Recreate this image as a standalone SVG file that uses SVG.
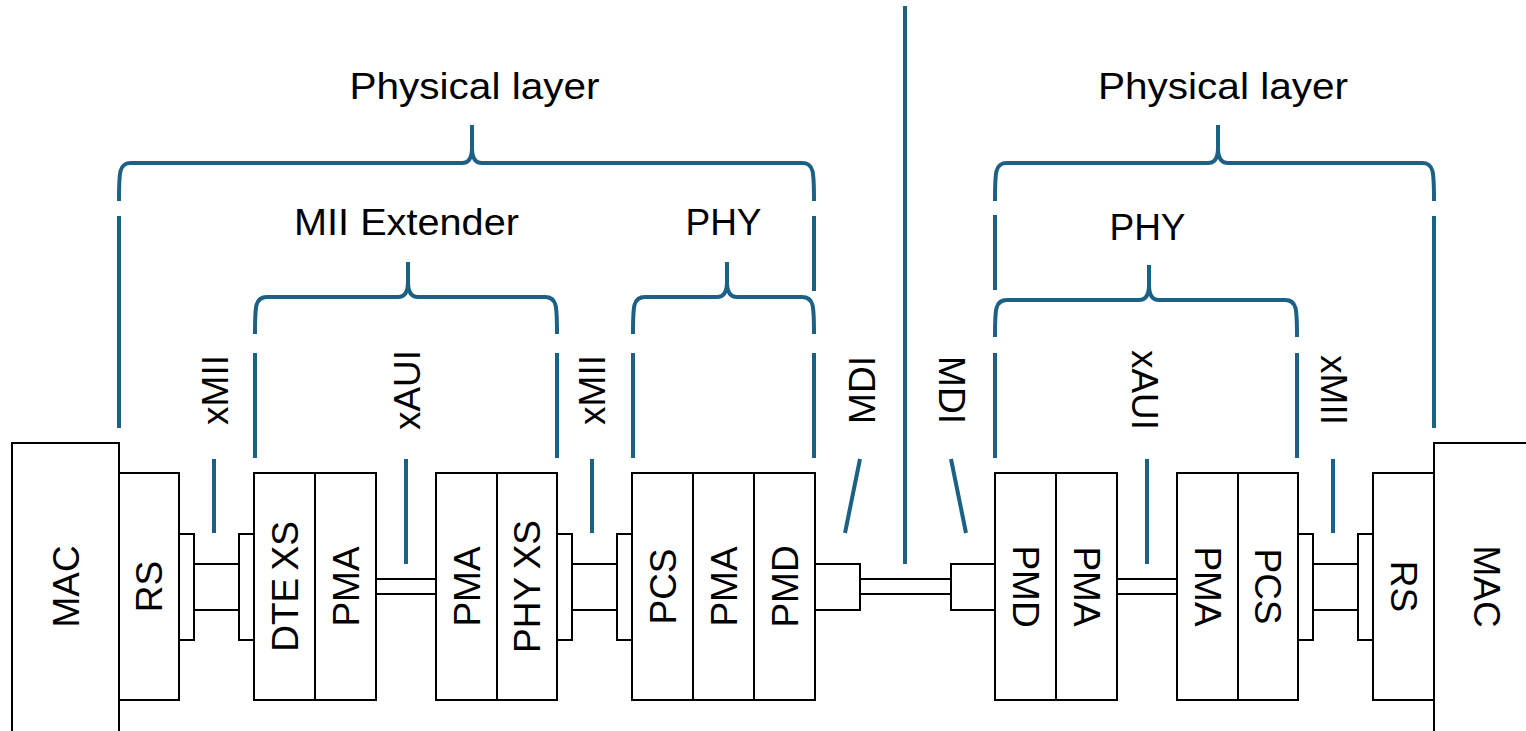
<svg xmlns="http://www.w3.org/2000/svg" width="1526" height="731" viewBox="0 0 1526 731">
<style>
.box{fill:#fff;stroke:#000;stroke-width:2}
.ln{fill:none;stroke:#000;stroke-width:2}
.br{fill:none;stroke:#1a6185;stroke-width:4;stroke-linecap:butt;stroke-linejoin:round}
.t{font-family:"Liberation Sans",Arial,sans-serif;font-size:37px;fill:#000;text-anchor:middle}
</style>
<rect width="1526" height="731" fill="#fff"/>

<g id="connectors">
  <rect class="box" x="179" y="534" width="15" height="106"/>
  <rect class="box" x="239" y="534" width="15" height="106"/>
  <line class="ln" x1="194" y1="564" x2="239" y2="564"/>
  <line class="ln" x1="194" y1="610" x2="239" y2="610"/>
  <line class="ln" x1="376" y1="579" x2="436" y2="579"/>
  <line class="ln" x1="376" y1="594" x2="436" y2="594"/>
  <rect class="box" x="557" y="534" width="15" height="106"/>
  <rect class="box" x="617" y="534" width="15" height="106"/>
  <line class="ln" x1="572" y1="564" x2="617" y2="564"/>
  <line class="ln" x1="572" y1="610" x2="617" y2="610"/>
  <rect class="box" x="815" y="564" width="45" height="46"/>
  <rect class="box" x="951" y="564" width="44" height="46"/>
  <line class="ln" x1="860" y1="579" x2="951" y2="579"/>
  <line class="ln" x1="860" y1="594" x2="951" y2="594"/>
  <line class="ln" x1="1117" y1="579" x2="1177" y2="579"/>
  <line class="ln" x1="1117" y1="594" x2="1177" y2="594"/>
  <rect class="box" x="1298" y="534" width="15" height="106"/>
  <rect class="box" x="1358" y="534" width="15" height="106"/>
  <line class="ln" x1="1313" y1="564" x2="1358" y2="564"/>
  <line class="ln" x1="1313" y1="610" x2="1358" y2="610"/>
</g>

<g id="left-mac">
  <rect class="box" x="12" y="443" width="107" height="300"/>
  <text class="t" transform="translate(65.5,586.5) rotate(-90)" y="13">MAC</text>
</g>
<g id="left-rs">
  <rect class="box" x="119" y="473" width="60" height="227"/>
  <text class="t" transform="translate(149,586.5) rotate(-90)" y="13">RS</text>
</g>
<g id="left-dtexs">
  <rect class="box" x="254" y="473" width="61" height="227"/>
  <text class="t" transform="translate(284.5,586.5) rotate(-90)" y="13" word-spacing="-3">DTE XS</text>
</g>
<g id="left-pma1">
  <rect class="box" x="315" y="473" width="61" height="227"/>
  <text class="t" transform="translate(345.5,586.5) rotate(-90)" y="13">PMA</text>
</g>
<g id="left-pma2">
  <rect class="box" x="436" y="473" width="61" height="227"/>
  <text class="t" transform="translate(466.5,586.5) rotate(-90)" y="13">PMA</text>
</g>
<g id="left-phyxs">
  <rect class="box" x="497" y="473" width="60" height="227"/>
  <text class="t" transform="translate(527,586.5) rotate(-90)" y="13" word-spacing="-2">PHY XS</text>
</g>
<g id="left-pcs">
  <rect class="box" x="632" y="473" width="61" height="227"/>
  <text class="t" transform="translate(662.5,586.5) rotate(-90)" y="13">PCS</text>
</g>
<g id="left-pma3">
  <rect class="box" x="693" y="473" width="61" height="227"/>
  <text class="t" transform="translate(723.5,586.5) rotate(-90)" y="13">PMA</text>
</g>
<g id="left-pmd">
  <rect class="box" x="754" y="473" width="61" height="227"/>
  <text class="t" transform="translate(784.5,586.5) rotate(-90)" y="13">PMD</text>
</g>

<g id="right-pmd">
  <rect class="box" x="995" y="473" width="61" height="227"/>
  <text class="t" transform="translate(1025.5,586.5) rotate(90)" y="13">PMD</text>
</g>
<g id="right-pma1">
  <rect class="box" x="1056" y="473" width="61" height="227"/>
  <text class="t" transform="translate(1086.5,586.5) rotate(90)" y="13">PMA</text>
</g>
<g id="right-pma2">
  <rect class="box" x="1177" y="473" width="61" height="227"/>
  <text class="t" transform="translate(1207.5,586.5) rotate(90)" y="13">PMA</text>
</g>
<g id="right-pcs">
  <rect class="box" x="1238" y="473" width="60" height="227"/>
  <text class="t" transform="translate(1268,586.5) rotate(90)" y="13">PCS</text>
</g>
<g id="right-rs">
  <rect class="box" x="1373" y="473" width="61" height="227"/>
  <text class="t" transform="translate(1403.5,586.5) rotate(90)" y="13">RS</text>
</g>
<g id="right-mac">
  <rect class="box" x="1434" y="443" width="107" height="300"/>
  <text class="t" transform="translate(1487,586.5) rotate(90)" y="13">MAC</text>
</g>

<g id="interface-ticks">
  <line class="br" x1="214" y1="459" x2="214" y2="533"/>
  <line class="br" x1="406" y1="459" x2="406" y2="564"/>
  <line class="br" x1="592" y1="459" x2="592" y2="533"/>
  <line class="br" x1="860" y1="459" x2="845" y2="533"/>
  <line class="br" x1="905" y1="6" x2="905" y2="564"/>
  <line class="br" x1="951" y1="459" x2="966" y2="533"/>
  <line class="br" x1="1147" y1="459" x2="1147" y2="564"/>
  <line class="br" x1="1333" y1="459" x2="1333" y2="533"/>
  <text class="t" transform="translate(215,390) rotate(-90)" y="13">xMII</text>
  <text class="t" transform="translate(407,390) rotate(-90)" y="13">xAUI</text>
  <text class="t" transform="translate(592,390) rotate(-90)" y="13">xMII</text>
  <text class="t" transform="translate(862,390) rotate(-90)" y="13">MDI</text>
  <text class="t" transform="translate(952,390) rotate(90)" y="13">MDI</text>
  <text class="t" transform="translate(1145,390) rotate(90)" y="13">xAUI</text>
  <text class="t" transform="translate(1334,390) rotate(90)" y="13">xMII</text>
</g>

<g id="brace-physical-left">
  <path class="br" d="M119 201 C119 172 119 163 131 163 L462 163 C469 163 472 158 472 148 L472 125 M472 148 C472 158 475 163 482 163 L802 163 C814 163 814 172 814 201"/>
  <line class="br" x1="119" y1="216" x2="119" y2="428"/>
  <line class="br" x1="814" y1="216" x2="814" y2="291"/>
  <text class="t" x="474.5" y="99" textLength="250" lengthAdjust="spacingAndGlyphs">Physical layer</text>
</g>
<g id="brace-mii-extender">
  <path class="br" d="M255 334 C255 306 255 297 267 297 L398 297 C405 297 408 292 408 282 L408 262 M408 282 C408 292 411 297 418 297 L545 297 C557 297 557 306 557 334"/>
  <line class="br" x1="255" y1="353" x2="255" y2="458"/>
  <line class="br" x1="557" y1="353" x2="557" y2="458"/>
  <text class="t" x="406.5" y="235" textLength="225" lengthAdjust="spacingAndGlyphs">MII Extender</text>
</g>
<g id="brace-phy-left">
  <path class="br" d="M633 334 C633 306 633 297 645 297 L717 297 C724 297 727 292 727 282 L727 262 M727 282 C727 292 730 297 737 297 L802 297 C814 297 814 306 814 334"/>
  <line class="br" x1="633" y1="353" x2="633" y2="458"/>
  <line class="br" x1="814" y1="353" x2="814" y2="458"/>
  <text class="t" x="723.5" y="235">PHY</text>
</g>
<g id="brace-physical-right">
  <path class="br" d="M995 201 C995 172 995 163 1007 163 L1208 163 C1215 163 1218 158 1218 148 L1218 125 M1218 148 C1218 158 1221 163 1228 163 L1422 163 C1434 163 1434 172 1434 201"/>
  <line class="br" x1="995" y1="215" x2="995" y2="290"/>
  <line class="br" x1="1434" y1="216" x2="1434" y2="428"/>
  <text class="t" x="1223" y="99" textLength="250" lengthAdjust="spacingAndGlyphs">Physical layer</text>
</g>
<g id="brace-phy-right">
  <path class="br" d="M995 337 C995 309 995 300 1007 300 L1139 300 C1146 300 1149 295 1149 285 L1149 265 M1149 285 C1149 295 1152 300 1159 300 L1285 300 C1297 300 1297 309 1297 337"/>
  <line class="br" x1="995" y1="353" x2="995" y2="458"/>
  <line class="br" x1="1297" y1="353" x2="1297" y2="458"/>
  <text class="t" x="1147.5" y="240">PHY</text>
</g>
</svg>
